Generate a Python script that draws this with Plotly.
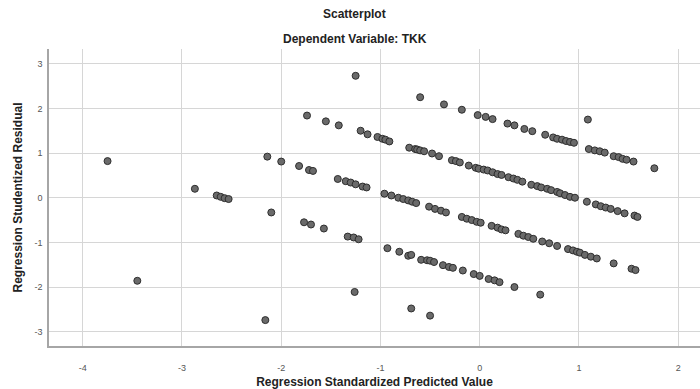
import plotly.graph_objects as go

# Regression Standardized Predicted Value (x) and Studentized Residual (y)
pred = [
    -3.75, -3.45, -2.87, -2.65, -2.61, -2.57, -2.53, -2.14, -2.16, -2.10,
    -2.00, -1.82, -1.72, -1.68, -1.74, -1.55, -1.42, -1.20, -1.13, -1.77,
    -1.70, -1.57, -1.43, -1.35, -1.30, -1.25, -1.18, -1.14, -1.33, -1.27,
    -1.22, -1.26, -1.25,
    # band 2
    -1.03, -0.98, -0.95, -0.91, -0.71, -0.65, -0.63, -0.60, -0.56, -0.48,
    -0.41, -0.28, -0.24, -0.20, -0.11, -0.04, -0.01, 0.04, 0.08, 0.13,
    0.18, 0.22, 0.29, 0.34, 0.38, 0.43, 0.52, 0.58, 0.62, 0.68,
    0.72, 0.78, 0.81, 0.86, 0.91, 0.96, 1.08, 1.17, 1.22, 1.27,
    1.32, 1.39, 1.46, 1.56, 1.59,
    # top band
    -0.60, -0.36, -0.18, -0.02, 0.06, 0.13, 0.28, 0.35, 0.45, 0.53,
    0.66, 0.74, 0.78, 0.83, 0.87, 0.91, 0.95, 1.10, 1.16, 1.21,
    1.26, 1.35, 1.40, 1.44, 1.48, 1.55, 1.76, 1.09,
    # band 3
    -0.96, -0.89, -0.82, -0.77, -0.72, -0.68, -0.64, -0.51, -0.45, -0.39,
    -0.34, -0.18, -0.13, -0.08, -0.03, 0.01, 0.12, 0.18, 0.22, 0.26,
    0.39, 0.44, 0.49, 0.54, 0.63, 0.70, 0.78, 0.89, 0.94, 0.98,
    1.01, 1.06, 1.12, 1.18, 1.35, 1.53, 1.57,
    # band 4
    -0.93, -0.81, -0.72, -0.69, -0.59, -0.53, -0.50, -0.46, -0.37, -0.31,
    -0.27, -0.17, -0.06, 0.00, 0.09, 0.15, 0.20, 0.35, 0.61,
    # bottom
    -0.69, -0.50,
]
resid = [
    0.82, -1.86, 0.20, 0.05, 0.02, -0.01, -0.03, 0.92, -2.74, -0.33,
    0.81, 0.71, 0.62, 0.60, 1.84, 1.71, 1.62, 1.50, 1.42, -0.55,
    -0.60, -0.69, 0.42, 0.37, 0.34, 0.30, 0.25, 0.23, -0.87, -0.89,
    -0.93, -2.11, 2.73,
    # band 2
    1.36, 1.32, 1.30, 1.26, 1.12, 1.09, 1.08, 1.06, 1.04, 0.99,
    0.93, 0.84, 0.82, 0.79, 0.72, 0.67, 0.65, 0.63, 0.61, 0.57,
    0.53, 0.51, 0.46, 0.43, 0.40, 0.36, 0.29, 0.26, 0.23, 0.20,
    0.17, 0.13, 0.10, 0.06, 0.02, 0.00, -0.09, -0.15, -0.19, -0.22,
    -0.25, -0.30, -0.35, -0.40, -0.43,
    # top band
    2.25, 2.09, 1.97, 1.85, 1.81, 1.76, 1.66, 1.62, 1.54, 1.49,
    1.41, 1.35, 1.32, 1.30, 1.27, 1.25, 1.23, 1.09, 1.06, 1.04,
    1.01, 0.93, 0.91, 0.87, 0.85, 0.81, 0.66, 1.75,
    # band 3
    0.09, 0.05, 0.00, -0.03, -0.06, -0.09, -0.12, -0.20, -0.25, -0.29,
    -0.33, -0.43, -0.47, -0.50, -0.54, -0.56, -0.63, -0.67, -0.71, -0.73,
    -0.81, -0.85, -0.88, -0.92, -0.98, -1.02, -1.08, -1.15, -1.18, -1.21,
    -1.23, -1.28, -1.32, -1.36, -1.47, -1.59, -1.62,
    # band 4
    -1.13, -1.21, -1.30, -1.28, -1.39, -1.40, -1.41, -1.44, -1.51, -1.55,
    -1.57, -1.63, -1.71, -1.75, -1.82, -1.85, -1.89, -2.00, -2.17,
    # bottom
    -2.48, -2.64,
]

x_ticks = [-4, -3, -2, -1, 0, 1, 2]
x_tick_labels = ["-4", "-3", "-2", "-1", "0", "1", "2"]
y_ticks = [-3, -2, -1, 0, 1, 2, 3]
y_tick_labels = ["-3", "-2", "-1", "0", "1", "2", "3"]

title_main = "Scatterplot"
title_sub = "Dependent Variable: TKK"
x_title = "Regression Standardized Predicted Value"
y_title = "Regression Studentized Residual"

fig = go.Figure()
fig.add_trace(go.Scatter(
    x=pred, y=resid, mode="markers",
    marker=dict(size=7, color="#6a6a6a", line=dict(color="#2e2e2e", width=1)),
    hoverinfo="x+y", showlegend=False,
))

font_family = "Liberation Sans, Arial, sans-serif"
fig.update_layout(
    width=700, height=389,
    margin=dict(l=49, r=0, t=49, b=43, autoexpand=False),
    paper_bgcolor="white", plot_bgcolor="white",
    font=dict(family=font_family, color="#222222"),
    annotations=[
        dict(text="<b>" + title_main + "</b>", xref="paper", yref="paper",
             x=0.47, y=1, yshift=35, showarrow=False, font=dict(size=12, color="#222222"),
             xanchor="center", yanchor="middle"),
        dict(text="<b>" + title_sub + "</b>", xref="paper", yref="paper",
             x=0.47, y=1, yshift=10, showarrow=False, font=dict(size=12, color="#222222"),
             xanchor="center", yanchor="middle"),
    ],
)
fig.update_xaxes(
    range=[-4.34, 2.22], tickvals=x_ticks, ticktext=x_tick_labels,
    showgrid=True, gridcolor="#d6d6d6", gridwidth=1.2,
    zeroline=False, showline=True, linecolor="#a6a6a6", linewidth=1.5,
    ticks="", ticklabelstandoff=12, automargin=False,
    tickfont=dict(size=9, color="#555555"),
    title=dict(text="<b>" + x_title + "</b>", font=dict(size=12, color="#222222"), standoff=6),
)
fig.update_yaxes(
    range=[-3.32, 3.33], tickvals=y_ticks, ticktext=y_tick_labels,
    showgrid=True, gridcolor="#d6d6d6", gridwidth=1.2,
    zeroline=False, showline=True, linecolor="#a6a6a6", linewidth=1.5,
    ticks="", ticklabelstandoff=3, automargin=False,
    tickfont=dict(size=9, color="#555555"),
    title=dict(text="<b>" + y_title + "</b>", font=dict(size=12, color="#222222"), standoff=9),
)

fig.write_html(
    "out.html",
    config={"displayModeBar": False},
    post_script="document.body.style.margin='0';document.body.style.overflow='hidden';",
)
